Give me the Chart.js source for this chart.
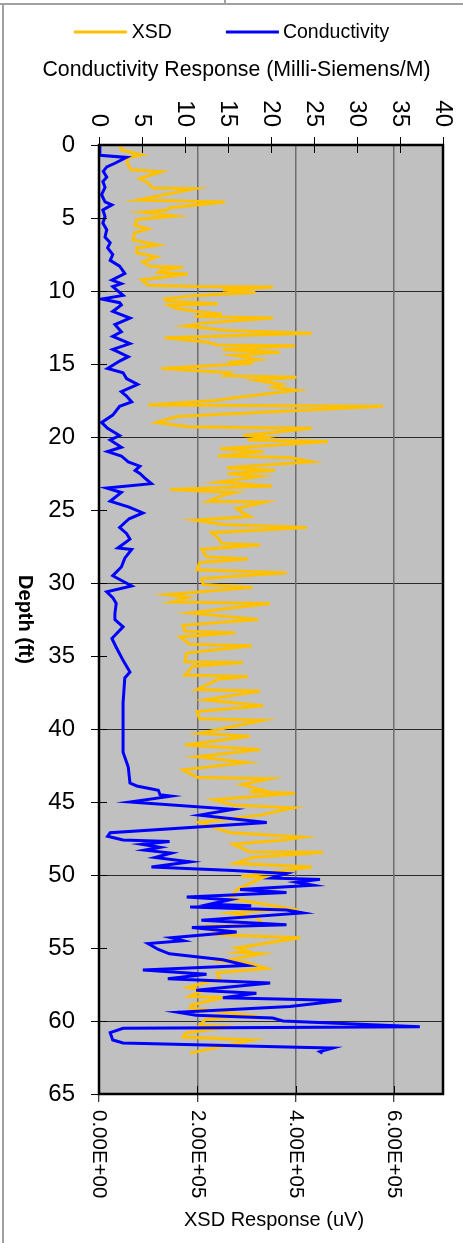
<!DOCTYPE html>
<html>
<head>
<meta charset="utf-8">
<script src="https://cdn.jsdelivr.net/npm/chart.js@4.4.1/dist/chart.umd.min.js"></script>
<style>
  html, body { margin: 0; padding: 0; background: #fff; }
  #wrap { width: 463px; height: 1243px; }
</style>
</head>
<body>
<div id="wrap"><canvas id="c" width="463" height="1243"></canvas></div>
<script>
// ---------- DATA ----------
const seriesNames = ['XSD', 'Conductivity'];
const depthTicks = [0, 5, 10, 15, 20, 25, 30, 35, 40, 45, 50, 55, 60, 65];
const xsdTicks = [0, 200000, 400000, 600000];
const condTicks = [0, 5, 10, 15, 20, 25, 30, 35, 40];
const chartTitle = 'Conductivity Response (Milli-Siemens/M)';
const xTitle = 'XSD Response (uV)';
const yTitle = 'Depth (ft)';

// XSD response (uV) vs depth (ft)
const depthXSD = [0.0,0.34,0.68,0.9,1.37,1.7,1.83,2.3,2.6,2.86,2.95,3.0,3.77,3.9,4.3,4.45,4.6,4.86,5.1,5.5,5.75,6.0,6.5,6.85,7.05,7.4,7.67,8.0,8.3,8.37,8.6,8.74,8.83,9.24,9.6,9.7,9.72,9.93,10.1,10.3,10.55,10.7,10.88,11.0,11.2,11.4,11.6,11.75,11.85,12.2,12.4,12.7,12.9,13.2,13.5,13.7,13.75,14.0,14.2,14.4,14.7,14.9,14.95,15.3,15.6,15.8,15.9,16.1,16.4,16.6,16.8,17.3,17.5,17.8,17.9,18.6,19.0,19.3,19.4,19.9,20.0,20.2,20.3,20.8,21.0,21.3,21.4,21.7,22.1,22.3,22.5,22.7,23.1,23.35,23.6,23.8,24.0,24.4,24.45,24.9,25.2,25.45,25.7,26.0,26.2,26.55,26.9,27.3,27.4,27.7,28.2,28.35,28.6,29.1,29.3,29.7,30.1,30.3,30.8,31.0,31.3,31.4,32.05,32.5,32.9,33.3,33.4,33.7,34.2,34.3,34.8,35.4,35.45,35.7,36.3,36.4,36.6,37.3,37.4,38.0,38.4,38.8,39.3,39.4,40.3,40.5,41.1,41.4,41.9,42.3,42.8,43.3,43.4,43.8,44.2,44.3,44.4,44.85,45.2,45.4,45.9,46.4,47.1,47.4,47.6,47.9,48.4,48.45,48.8,49.2,49.45,49.7,50.1,50.15,51.0,51.6,52.3,52.6,52.9,53.4,53.5,54.1,54.3,55.0,55.2,55.3,55.4,55.9,56.0,56.4,56.7,57.1,57.7,57.9,58.3,58.4,58.9,59.1,59.6,59.9,60.3,60.4,60.8,61.1,61.3,62.2];
const xsdValues = [42600,46000,86800,56000,59000,66000,127000,83000,100000,107000,110000,195000,79000,256000,144000,138000,89000,155000,77000,73000,100000,73000,69000,120000,77000,77000,117000,89000,104000,171000,124000,120000,181000,87000,100000,199000,354000,252000,318000,199000,134000,138000,242000,144000,158000,199000,250000,195000,354000,212000,175000,260000,433000,134000,219000,240000,399000,252000,368000,273000,324000,262000,313000,127000,267000,256000,402000,318000,372000,354000,402000,280000,236000,100000,578000,158000,117000,181000,433000,293000,341000,303000,466000,246000,334000,242000,389000,433000,260000,358000,262000,328000,242000,352000,144000,277000,252000,222000,338000,280000,293000,307000,195000,252000,423000,229000,242000,250000,328000,209000,219000,303000,205000,199000,382000,209000,212000,313000,138000,181000,148000,348000,185000,324000,171000,175000,277000,165000,185000,311000,178000,175000,293000,191000,175000,303000,242000,199000,328000,216000,334000,199000,205000,334000,205000,307000,175000,328000,199000,301000,171000,199000,348000,290000,334000,307000,399000,234000,273000,395000,328000,205000,267000,415000,375000,273000,307000,456000,313000,277000,433000,375000,290000,334000,280000,267000,389000,267000,321000,334000,222000,240000,409000,280000,301000,283000,331000,252000,301000,341000,240000,246000,181000,212000,185000,252000,189000,185000,301000,216000,205000,270000,178000,171000,313000,185000];

// Conductivity response (mS/m) vs depth (ft)
const depthCond = [0.0,0.7,0.85,1.25,1.5,1.8,2.2,2.5,2.9,3.4,3.9,4.1,4.45,4.9,5.35,5.8,6.3,6.7,7.05,7.5,7.9,8.3,8.8,9.25,9.5,9.7,10.3,10.55,10.8,10.96,11.4,11.85,12.3,12.8,13.1,13.6,14.0,14.5,14.8,15.3,15.6,16.0,16.4,16.9,17.2,17.6,17.9,18.5,19.0,19.4,19.9,20.2,20.7,21.0,21.3,21.7,22.0,22.3,22.5,22.8,23.2,23.5,23.8,24.4,24.8,25.2,25.6,26.2,26.6,27.0,27.6,27.7,28.3,28.9,29.5,30.2,30.6,31.0,31.4,32.1,32.5,33.0,33.8,34.4,35.3,36.1,36.5,38.2,40.1,41.6,42.6,43.7,43.9,44.2,44.5,44.6,45.0,45.5,45.9,46.4,47.1,47.35,47.6,47.7,47.9,48.1,48.3,48.5,48.8,49.1,49.45,49.7,49.9,50.2,50.3,50.5,50.7,51.0,51.2,51.5,51.7,52.0,52.1,52.2,52.4,52.6,53.1,53.4,53.6,53.9,54.3,54.5,54.7,55.1,55.4,55.8,56.2,56.5,56.8,57.1,57.4,57.9,58.1,58.4,58.6,59.0,59.4,59.6,59.8,60.0,60.4,60.5,60.8,61.3,61.5,61.8,61.85,62.1,62.2];
const condValues = [0.1,0.1,3.2,1.85,0.9,0.5,0.9,0.45,0.7,0.3,0.7,1.5,0.45,0.7,0.45,0.9,0.7,1.3,1.0,1.6,1.3,2.4,3.0,1.5,2.6,1.6,2.8,0.3,2.4,2.6,1.6,3.6,1.85,2.6,1.6,3.6,1.6,3.4,2.4,1.0,2.8,3.2,4.5,2.6,3.2,3.8,2.4,1.6,0.3,1.0,2.4,1.3,2.6,1.0,2.6,3.4,4.75,4.2,4.75,5.3,6.1,0.9,2.6,1.3,3.5,5.1,3.5,2.4,3.2,3.6,2.2,3.8,3.0,2.6,1.6,3.8,0.9,1.6,2.0,1.85,1.85,2.8,1.5,2.0,2.8,3.6,3.0,2.8,2.8,2.8,3.4,3.6,4.4,6.9,7.1,8.4,3.6,15.6,11.7,19.5,1.3,1.0,2.8,8.2,5.0,7.1,5.3,8.4,6.5,10.6,6.1,15.6,21.8,20.1,25.7,23.0,24.9,16.4,21.8,10.2,15.2,12.9,17.7,10.6,21.8,23.7,11.9,21.8,10.8,16.0,8.4,9.8,5.7,6.9,8.2,14.4,17.2,5.1,12.5,8.0,19.9,11.3,18.3,14.4,28.2,22.2,9.2,11.3,20.2,21.4,37.3,2.8,1.3,1.6,2.8,23.1,27.2,25.7,26.0];

// ---------- helpers ----------
function fmtExp(v) {
  if (v === 0) return '0.00E+00';
  const s = Number(v).toExponential(2).toUpperCase(); // e.g. 2.00E+5
  const m = s.match(/^(-?[\d.]+)E([+-])(\d+)$/);
  return m[1] + 'E' + m[2] + m[3].padStart(2, '0');
}

const FONT = "'Liberation Sans', Arial, Helvetica, sans-serif";
Chart.defaults.font.family = FONT;
Chart.defaults.color = '#000';

const TICK_FONT_LEFT = 24, TICK_FONT_TOP = 24, TICK_FONT_BOTTOM = 20.5;
const LEFT_PAD = 16, TOP_PAD = 10, BOTTOM_PAD = 8, TICK_LEN = 8;
// reserved axis sizes (px)
const Y_AXIS_W = 99, TOP_AXIS_H = 145, BOTTOM_AXIS_H = 149, RIGHT_PAD = 20;

const decorPlugin = {
  id: 'decor',
  beforeDraw(chart) {
    const ctx = chart.ctx, ca = chart.chartArea;
    ctx.save();
    ctx.fillStyle = '#fff';
    ctx.fillRect(0, 0, chart.width, chart.height);
    // outer frame fragments
    ctx.strokeStyle = '#a0a0a0';
    ctx.lineWidth = 2;
    ctx.beginPath();
    ctx.moveTo(0, 4); ctx.lineTo(chart.width, 4);
    ctx.moveTo(225, 0); ctx.lineTo(225, 4);
    ctx.moveTo(3, 4); ctx.lineTo(3, chart.height);
    ctx.stroke();
    // plot area background
    ctx.fillStyle = '#C0C0C0';
    ctx.fillRect(ca.left, ca.top, ca.right - ca.left, ca.bottom - ca.top);
    ctx.restore();
  },
  afterDraw(chart) {
    const ctx = chart.ctx, ca = chart.chartArea;
    const ys = chart.scales.y, xs = chart.scales.x, x2 = chart.scales.x2;
    ctx.save();
    // inner halves of the crossing tick marks
    ctx.strokeStyle = '#000';
    ctx.lineWidth = 1;
    ctx.beginPath();
    depthTicks.forEach(v => { const y = Math.round(ys.getPixelForValue(v)) + 0.5; ctx.moveTo(ca.left, y); ctx.lineTo(ca.left + TICK_LEN, y); });
    condTicks.forEach(v => { const x = Math.round(x2.getPixelForValue(v)) + 0.5; ctx.moveTo(x, ca.top); ctx.lineTo(x, ca.top + TICK_LEN); });
    xsdTicks.forEach(v => { const x = Math.round(xs.getPixelForValue(v)) + 0.5; ctx.moveTo(x, ca.bottom); ctx.lineTo(x, ca.bottom - TICK_LEN); });
    ctx.stroke();
    // plot border
    ctx.lineWidth = 2.5;
    ctx.strokeRect(ca.left, ca.top, ca.right - ca.left, ca.bottom - ca.top);

    ctx.fillStyle = '#000';
    // left tick labels
    ctx.font = TICK_FONT_LEFT + 'px ' + FONT;
    ctx.textAlign = 'right'; ctx.textBaseline = 'middle';
    depthTicks.forEach(v => ctx.fillText(String(v), ca.left - TICK_LEN - LEFT_PAD, ys.getPixelForValue(v)));
    // top tick labels (rotated clockwise)
    ctx.font = TICK_FONT_TOP + 'px ' + FONT;
    condTicks.forEach(v => {
      ctx.save();
      ctx.translate(x2.getPixelForValue(v), ca.top - TICK_LEN - TOP_PAD);
      ctx.rotate(Math.PI / 2);
      ctx.textAlign = 'right'; ctx.textBaseline = 'middle';
      ctx.fillText(String(v), 0, 0);
      ctx.restore();
    });
    // bottom tick labels (rotated clockwise)
    ctx.font = TICK_FONT_BOTTOM + 'px ' + FONT;
    xsdTicks.forEach(v => {
      ctx.save();
      ctx.translate(xs.getPixelForValue(v), ca.bottom + TICK_LEN + BOTTOM_PAD);
      ctx.rotate(Math.PI / 2);
      ctx.textAlign = 'left'; ctx.textBaseline = 'middle';
      ctx.fillText(fmtExp(v), 0, 0);
      ctx.restore();
    });
    // y axis title rotated clockwise
    ctx.save();
    ctx.font = 'bold 20px ' + FONT;
    ctx.translate(25, (ca.top + ca.bottom) / 2);
    ctx.rotate(Math.PI / 2);
    ctx.textAlign = 'center'; ctx.textBaseline = 'middle';
    ctx.fillText(yTitle, 0, 0);
    ctx.restore();
    // x axis title
    ctx.font = '20px ' + FONT;
    ctx.textAlign = 'center'; ctx.textBaseline = 'middle';
    ctx.fillText(xTitle, (ca.left + ca.right) / 2 + 3, 1220);
    // chart title (top axis title)
    ctx.font = '21.3px ' + FONT;
    ctx.fillText(chartTitle, chart.width / 2 + 5, 70);

    // legend (line samples)
    const ds = chart.data.datasets;
    ctx.font = '19.5px ' + FONT;
    ctx.textBaseline = 'middle'; ctx.textAlign = 'left';
    const lineW = 53, gapText = [5, 4], gapItem = 54, ly = 32;
    const widths = ds.map(d => ctx.measureText(d.label).width);
    let total = 0;
    ds.forEach((d, i) => { total += lineW + gapText[i] + widths[i]; if (i < ds.length - 1) total += gapItem; });
    let x = (chart.width - total) / 2;
    ds.forEach((d, i) => {
      ctx.strokeStyle = d.borderColor; ctx.lineWidth = 3;
      ctx.beginPath(); ctx.moveTo(x, ly); ctx.lineTo(x + lineW, ly); ctx.stroke();
      x += lineW + gapText[i];
      ctx.fillText(d.label, x, ly + 1);
      x += widths[i] + gapItem;
    });
    ctx.restore();
  }
};

new Chart(document.getElementById('c'), {
  type: 'scatter',
  data: {
    datasets: [
      {
        label: seriesNames[0],
        data: depthXSD.map((d, i) => ({ x: xsdValues[i], y: d })),
        xAxisID: 'x', yAxisID: 'y',
        showLine: true, borderColor: '#FFC000', backgroundColor: '#FFC000',
        borderWidth: 3, pointRadius: 0, tension: 0, order: 2
      },
      {
        label: seriesNames[1],
        data: depthCond.map((d, i) => ({ x: condValues[i], y: d })),
        xAxisID: 'x2', yAxisID: 'y',
        showLine: true, borderColor: '#0000FF', backgroundColor: '#0000FF',
        borderWidth: 3, pointRadius: 0, tension: 0, order: 1
      }
    ]
  },
  options: {
    responsive: false,
    animation: false,
    devicePixelRatio: 1,
    layout: { padding: { left: 0, right: RIGHT_PAD, top: 0, bottom: 0 } },
    plugins: {
      legend: { display: false },
      tooltip: { enabled: false },
      title: { display: false }
    },
    scales: {
      y: {
        type: 'linear', position: 'left', reverse: true, min: 0, max: 65,
        afterBuildTicks: s => { s.ticks = depthTicks.map(v => ({ value: v })); },
        afterFit: s => { s.width = Y_AXIS_W; },
        ticks: { color: 'transparent', font: { size: TICK_FONT_LEFT }, padding: LEFT_PAD, autoSkip: false },
        grid: {
          color: c => (c.tick && c.tick.value % 10 === 0 && c.tick.value > 0 && c.tick.value < 65) ? '#2a2a2a' : 'transparent',
          tickColor: '#000', tickLength: TICK_LEN, lineWidth: 1, tickWidth: 1
        },
        border: { display: false },
        title: { display: false, text: yTitle }
      },
      x: {
        type: 'linear', position: 'bottom', min: 0, max: 700000,
        afterBuildTicks: s => { s.ticks = xsdTicks.map(v => ({ value: v })); },
        afterFit: s => { s.height = BOTTOM_AXIS_H; },
        ticks: { color: 'transparent', font: { size: TICK_FONT_BOTTOM }, minRotation: 90, maxRotation: 90, padding: BOTTOM_PAD, autoSkip: false, callback: v => fmtExp(v) },
        grid: {
          color: c => (c.tick && c.tick.value > 0) ? '#6e6e6e' : 'transparent',
          tickColor: '#000', tickLength: TICK_LEN, lineWidth: 1.5, tickWidth: 1
        },
        border: { display: false },
        title: { display: false, text: xTitle }
      },
      x2: {
        type: 'linear', position: 'top', min: 0, max: 40,
        afterBuildTicks: s => { s.ticks = condTicks.map(v => ({ value: v })); },
        afterFit: s => { s.height = TOP_AXIS_H; },
        ticks: { color: 'transparent', font: { size: TICK_FONT_TOP }, minRotation: 90, maxRotation: 90, padding: TOP_PAD, autoSkip: false },
        grid: { drawOnChartArea: false, tickColor: '#000', tickLength: TICK_LEN, tickWidth: 1 },
        border: { display: false },
        title: { display: false, text: chartTitle }
      }
    }
  },
  plugins: [decorPlugin]
});
</script>
</body>
</html>
